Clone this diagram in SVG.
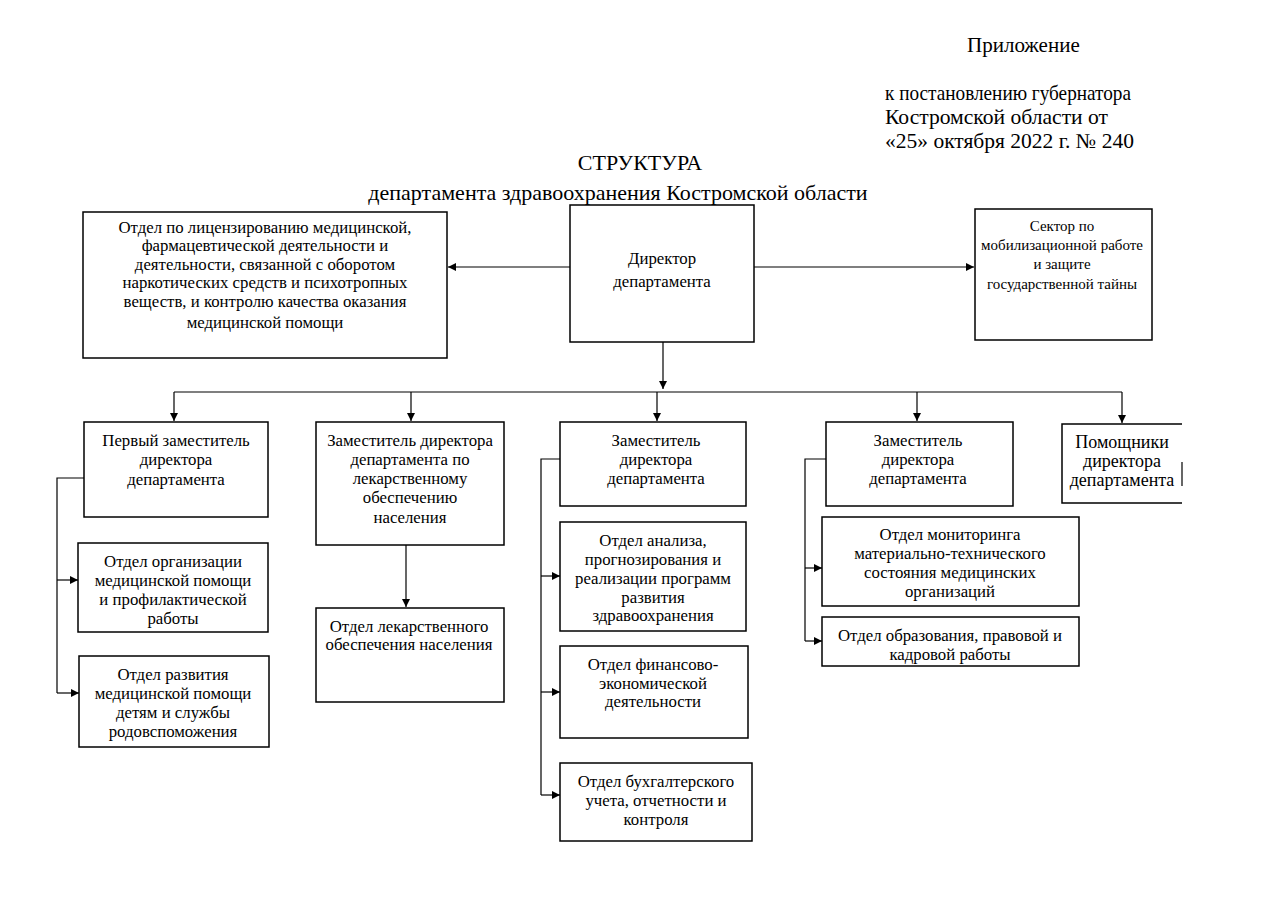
<svg xmlns="http://www.w3.org/2000/svg" width="1280" height="905" viewBox="0 0 1280 905">
<defs>
<marker id="ah" viewBox="0 0 10 10" refX="10" refY="5" markerWidth="8" markerHeight="8" markerUnits="userSpaceOnUse" orient="auto"><path d="M0,0 L10,5 L0,10 z" fill="#000"/></marker>
</defs>
<style>
text{font-family:"Liberation Serif","Times New Roman",serif;fill:#000}
.h{font-size:21px}
.ti{font-size:22px;text-anchor:middle}
.t{font-size:16.8px;text-anchor:middle}
.s{font-size:15px}
.p{font-size:18px}
.b{fill:#fff;stroke:#000;stroke-width:1.5}
.c{fill:none;stroke:#000;stroke-width:1.2}
.a{marker-end:url(#ah)}
</style>
<rect width="1280" height="905" fill="#fff"/>
<g id="header">
<text class="h" x="967" y="52">Приложение</text>
<text class="h" x="885" y="100" textLength="246" lengthAdjust="spacingAndGlyphs">к постановлению губернатора</text>
<text class="h" x="885" y="124" textLength="223" lengthAdjust="spacingAndGlyphs">Костромской области от</text>
<text class="h" x="885" y="148" textLength="249" lengthAdjust="spacingAndGlyphs">«25» октября 2022 г. № 240</text>
<text class="ti" x="640" y="170">СТРУКТУРА</text>
<text class="ti" x="618" y="200">департамента здравоохранения Костромской области</text>
</g>
<g id="connectors">
<path class="c a" d="M570,267 H448"/>
<path class="c a" d="M754,267 H974"/>
<path class="c a" d="M663,342 V389"/>
<path class="c" d="M174,392 H1122"/>
<path class="c a" d="M174,392 V421"/>
<path class="c a" d="M411,392 V421"/>
<path class="c a" d="M657,392 V421"/>
<path class="c a" d="M917,392 V421"/>
<path class="c a" d="M1122,392 V423"/>
<path class="c" d="M84,478 H57 V693"/>
<path class="c a" d="M57,580 H78"/>
<path class="c a" d="M57,693 H79"/>
<path class="c a" d="M406,545 V607"/>
<path class="c" d="M560,459 H541 V795"/>
<path class="c a" d="M541,576 H560"/>
<path class="c a" d="M541,692 H560"/>
<path class="c a" d="M541,795 H560"/>
<path class="c" d="M826,459 H805 V641"/>
<path class="c a" d="M805,568 H822"/>
<path class="c a" d="M805,641 H822"/>
</g>
<g id="n_license"><rect class="b" x="83" y="212" width="364" height="146"/>
<text class="t" x="265" y="233">Отдел по лицензированию медицинской,</text>
<text class="t" x="265" y="251">фармацевтической деятельности и</text>
<text class="t" x="265" y="270">деятельности, связанной с оборотом</text>
<text class="t" x="265" y="288">наркотических средств и психотропных</text>
<text class="t" x="265" y="307">веществ, и контролю качества оказания</text>
<text class="t" x="265" y="328">медицинской помощи</text></g>
<g id="n_director"><rect class="b" x="570" y="205" width="184" height="137"/>
<text class="t" x="662" y="264">Директор</text>
<text class="t" x="662" y="287">департамента</text></g>
<g id="n_sector"><rect class="b" x="975" y="209" width="177" height="131"/>
<text class="t s" x="1062" y="231">Сектор по</text>
<text class="t s" x="1062" y="250">мобилизационной работе</text>
<text class="t s" x="1062" y="269">и защите</text>
<text class="t s" x="1062" y="289">государственной тайны</text></g>
<g id="n_dep1"><rect class="b" x="84" y="422" width="184" height="95"/>
<text class="t" x="176" y="446">Первый заместитель</text>
<text class="t" x="176" y="465">директора</text>
<text class="t" x="176" y="485">департамента</text></g>
<g id="n_dep2"><rect class="b" x="316" y="422" width="188" height="123"/>
<text class="t" x="410" y="446">Заместитель директора</text>
<text class="t" x="410" y="465">департамента по</text>
<text class="t" x="410" y="484">лекарственному</text>
<text class="t" x="410" y="503">обеспечению</text>
<text class="t" x="410" y="523">населения</text></g>
<g id="n_dep3"><rect class="b" x="560" y="422" width="186" height="84"/>
<text class="t" x="656" y="446">Заместитель</text>
<text class="t" x="656" y="465">директора</text>
<text class="t" x="656" y="484">департамента</text></g>
<g id="n_dep4"><rect class="b" x="826" y="422" width="187" height="84"/>
<text class="t" x="918" y="446">Заместитель</text>
<text class="t" x="918" y="465">директора</text>
<text class="t" x="918" y="484">департамента</text></g>
<g id="n_assist"><path class="b" d="M1182,424 H1062 V503 H1182"/>
<path class="c" d="M1182,462 V486"/>
<text class="t p" x="1122" y="448">Помощники</text>
<text class="t p" x="1122" y="467">директора</text>
<text class="t p" x="1122" y="486">департамента</text></g>
<g id="n_org"><rect class="b" x="78" y="543" width="190" height="89"/>
<text class="t" x="173" y="567">Отдел организации</text>
<text class="t" x="173" y="586">медицинской помощи</text>
<text class="t" x="173" y="605">и профилактической</text>
<text class="t" x="173" y="624">работы</text></g>
<g id="n_child"><rect class="b" x="79" y="656" width="190" height="91"/>
<text class="t" x="173" y="680">Отдел развития</text>
<text class="t" x="173" y="699">медицинской помощи</text>
<text class="t" x="173" y="718">детям и службы</text>
<text class="t" x="173" y="737">родовспоможения</text></g>
<g id="n_drug"><rect class="b" x="316" y="608" width="188" height="94"/>
<text class="t" x="409" y="632">Отдел лекарственного</text>
<text class="t" x="409" y="650">обеспечения населения</text></g>
<g id="n_anal"><rect class="b" x="560" y="522" width="186" height="109"/>
<text class="t" x="653" y="546">Отдел анализа,</text>
<text class="t" x="653" y="565">прогнозирования и</text>
<text class="t" x="653" y="584">реализации программ</text>
<text class="t" x="653" y="603">развития</text>
<text class="t" x="653" y="621">здравоохранения</text></g>
<g id="n_fin"><rect class="b" x="560" y="646" width="188" height="92"/>
<text class="t" x="653" y="670">Отдел финансово-</text>
<text class="t" x="653" y="689">экономической</text>
<text class="t" x="653" y="707">деятельности</text></g>
<g id="n_acc"><rect class="b" x="560" y="763" width="192" height="78"/>
<text class="t" x="656" y="787">Отдел бухгалтерского</text>
<text class="t" x="656" y="806">учета, отчетности и</text>
<text class="t" x="656" y="825">контроля</text></g>
<g id="n_mon"><rect class="b" x="822" y="517" width="257" height="89"/>
<text class="t" x="950" y="540">Отдел мониторинга</text>
<text class="t" x="950" y="559">материально-технического</text>
<text class="t" x="950" y="578">состояния медицинских</text>
<text class="t" x="950" y="597">организаций</text></g>
<g id="n_edu"><rect class="b" x="822" y="617" width="257" height="49"/>
<text class="t" x="950" y="641">Отдел образования, правовой и</text>
<text class="t" x="950" y="660">кадровой работы</text></g>
</svg>
